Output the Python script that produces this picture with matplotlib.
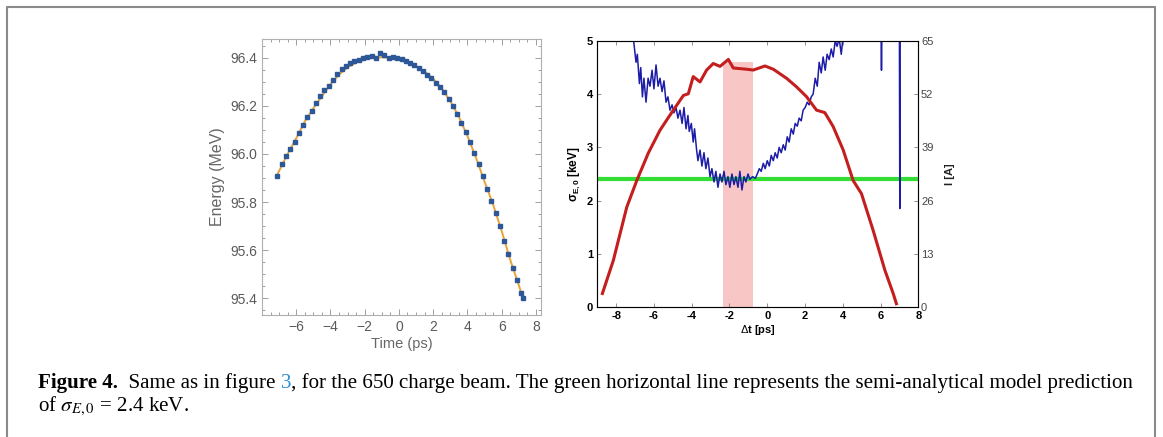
import numpy as np
import matplotlib
matplotlib.use("Agg")
import matplotlib.pyplot as plt
from matplotlib.ticker import MultipleLocator, FormatStrFormatter

plt.rcParams["font.family"] = ["Liberation Sans", "DejaVu Sans"]
plt.rcParams["mathtext.fontset"] = "custom"
plt.rcParams["mathtext.rm"] = "Liberation Sans"
plt.rcParams["mathtext.it"] = "Liberation Sans:italic"
plt.rcParams["mathtext.bf"] = "Liberation Sans:bold"

# left panel: measured energy vs time, with fit
t_meas = [-7.10, -6.85, -6.60, -6.35, -6.10, -5.85, -5.60, -5.35, -5.10, -4.85,
          -4.60, -4.35, -4.10, -3.85, -3.60, -3.35, -3.10, -2.85, -2.60, -2.35,
          -2.10, -1.85, -1.60, -1.35, -1.10, -0.85, -0.60, -0.35, -0.10, 0.15,
          0.40, 0.65, 0.90, 1.15, 1.40, 1.65, 1.90, 2.15, 2.40, 2.65,
          2.90, 3.15, 3.40, 3.65, 3.90, 4.15, 4.40, 4.65, 4.90, 5.15,
          5.40, 5.65, 5.90, 6.15, 6.40, 6.65, 6.90, 7.15, 7.25]
e_meas = [95.910, 95.958, 95.993, 96.020, 96.050, 96.085, 96.120, 96.153, 96.180, 96.213,
          96.240, 96.265, 96.284, 96.307, 96.332, 96.352, 96.367, 96.380, 96.386, 96.392,
          96.400, 96.405, 96.408, 96.400, 96.418, 96.410, 96.400, 96.405, 96.400, 96.394,
          96.388, 96.378, 96.368, 96.358, 96.346, 96.330, 96.315, 96.297, 96.280, 96.256,
          96.229, 96.198, 96.166, 96.130, 96.093, 96.048, 96.003, 95.958, 95.907, 95.855,
          95.804, 95.753, 95.699, 95.639, 95.582, 95.526, 95.474, 95.423, 95.402]
t_fit = [-7.1, -6.5, -6.0, -5.5, -5.0, -4.5, -4.0, -3.5, -3.0, -2.5, -2.0, -1.5, -1.0, -0.5,
         0.0, 0.5, 1.0, 1.5, 2.0, 2.5, 3.0, 3.5, 4.0, 4.5, 5.0, 5.5, 6.0, 6.5, 7.0, 7.2]
e_fit = [95.915, 96.000, 96.065, 96.135, 96.190, 96.240, 96.290, 96.330, 96.360, 96.380,
         96.393, 96.400, 96.402, 96.400, 96.393, 96.383, 96.365, 96.343, 96.313, 96.272,
         96.220, 96.155, 96.075, 95.985, 95.885, 95.790, 95.680, 95.560, 95.455, 95.410]

# right panel: sigma_E,0 (keV) and current (A)
sig_t = [-7.09, -6.95, -6.88, -6.77, -6.70, -6.61, -6.53, -6.42, -6.31, -6.21,
         -6.10, -6.00, -5.89, -5.78, -5.68, -5.57, -5.47, -5.36, -5.26, -5.15,
         -5.04, -4.94, -4.83, -4.73, -4.62, -4.51, -4.41, -4.30, -4.20, -4.13,
         -4.02, -3.92, -3.85, -3.74, -3.67, -3.56, -3.46, -3.35, -3.25, -3.14,
         -3.03, -2.93, -2.82, -2.72, -2.61, -2.50, -2.40, -2.29, -2.19, -2.08,
         -1.98, -1.87, -1.76, -1.66, -1.55, -1.45, -1.34, -1.23, -1.13, -1.02,
         -0.92, -0.78, -0.63, -0.53, -0.42, -0.32, -0.21, -0.11, 0.00, 0.11,
         0.21, 0.32, 0.42, 0.53, 0.63, 0.74, 0.85, 0.95, 1.06, 1.16,
         1.27, 1.38, 1.48, 1.59, 1.69, 1.80, 1.90, 2.01, 2.12, 2.22,
         2.33, 2.43, 2.54, 2.65, 2.75, 2.86, 2.96, 3.07, 3.17, 3.28,
         3.39, 3.49, 3.60, 3.70, 3.81, 3.92, 4.02]
sig_kev = [5.05, 4.60, 4.75, 4.20, 4.50, 3.95, 4.30, 3.85, 4.30, 4.15,
           4.45, 4.10, 4.55, 4.15, 4.30, 4.05, 4.25, 3.85, 3.95, 3.70,
           3.80, 3.65, 3.75, 3.55, 3.70, 3.45, 3.75, 3.35, 3.60, 3.30,
           3.45, 3.10, 3.35, 2.95, 2.75, 2.95, 2.65, 2.90, 2.60, 2.80,
           2.45, 2.60, 2.35, 2.55, 2.25, 2.50, 2.35, 2.55, 2.30, 2.45,
           2.25, 2.50, 2.30, 2.45, 2.25, 2.55, 2.20, 2.45, 2.35, 2.50,
           2.40, 2.45, 2.42, 2.50, 2.60, 2.55, 2.70, 2.60, 2.75, 2.65,
           2.85, 2.75, 2.90, 2.80, 3.00, 2.90, 3.05, 2.95, 3.20, 3.10,
           3.35, 3.25, 3.45, 3.40, 3.55, 3.50, 3.70, 3.75, 3.85, 3.80,
           3.95, 4.00, 4.30, 4.15, 4.60, 4.40, 4.70, 4.45, 4.75, 4.65,
           4.85, 4.70, 5.00, 4.90, 5.05, 4.75, 5.10]
spike_t = [6.03, 6.05, 6.07, np.nan, 7.00, 7.02, 7.03]
spike_kev = [5.10, 4.45, 5.10, np.nan, 5.10, 1.85, 5.10]

cur_t = [-8.73, -8.15, -7.44, -6.91, -6.30, -5.68, -5.15, -4.44, -4.18, -3.92,
         -3.56, -3.21, -2.86, -2.50, -2.06, -1.80, -1.09, -0.74, -0.12, 0.32,
         1.02, 1.55, 2.08, 2.61, 3.05, 3.49, 4.02, 4.55, 4.99, 5.61,
         6.23, 6.67, 6.84]
cur_a = [3.3, 11.4, 24.4, 30.9, 37.6, 43.2, 46.9, 51.7, 52.1, 56.3,
         55.0, 57.9, 59.5, 58.8, 60.5, 58.4, 58.1, 57.9, 58.9, 58.1,
         55.9, 53.8, 51.4, 48.1, 47.5, 44.1, 38.4, 30.9, 27.7, 18.7,
         9.0, 3.3, 0.8]

model_kev = 2.4
band = [-2.33, -0.74]
band_top = 4.61

W, H = 1163, 437
fig = plt.figure(figsize=(W / 100, H / 100), dpi=100)


def box(x0, y0, x1, y1):
    # pixel box (top-left origin) -> figure fraction rect
    return [x0 / W, 1 - y1 / H, (x1 - x0) / W, (y1 - y0) / H]


# page frame, open at the bottom
fig.add_artist(plt.Line2D([7 / W, 7 / W, 1155 / W, 1155 / W],
                          [0, 1 - 7 / H, 1 - 7 / H, 0],
                          color="#8a8a8a", lw=1.5, transform=fig.transFigure))

# ---- left panel (Mathematica style)
ax1 = fig.add_axes(box(262, 39, 541, 315))
ax1.plot(t_fit, e_fit, color="#e8a23a", lw=1.4, zorder=2)
ax1.errorbar(t_meas, e_meas, yerr=0.008, fmt="s", ms=2.2, color="#2d5796",
             ecolor="#2d5796", elinewidth=1.0, capsize=0, zorder=3)
ax1.set_xlim(-8.0, 8.3)
ax1.set_ylim(95.33, 96.478)
ax1.xaxis.set_major_locator(MultipleLocator(2))
ax1.xaxis.set_minor_locator(MultipleLocator(0.5))
ax1.yaxis.set_major_locator(MultipleLocator(0.2))
ax1.yaxis.set_minor_locator(MultipleLocator(0.05))
ax1.yaxis.set_major_formatter(FormatStrFormatter("%.1f"))
ax1.set_xticks([-6, -4, -2, 0, 2, 4, 6, 8])
ax1.tick_params(which="both", direction="in", top=True, right=True,
                color="#a0a0a0", labelcolor="#5a5a5a", labelsize=10, width=0.7)
ax1.tick_params(which="major", length=4)
ax1.tick_params(which="minor", length=2)
for s in ax1.spines.values():
    s.set_color("#b0b0b0")
    s.set_linewidth(0.8)
ax1.set_xlabel("Time (ps)", color="#666666", fontsize=10.5, labelpad=2)
ax1.set_ylabel("Energy (MeV)", color="#666666", fontsize=11.5, labelpad=4)

# ---- right panel (MATLAB style)
ax = fig.add_axes(box(597.3, 41, 918.3, 307))
ax.fill_between(band, 0, band_top, color="#f9c6c6", lw=0, zorder=1)
ax.axhline(model_kev, color="#33dd33", lw=3.0, zorder=2)
ax.plot(sig_t, sig_kev, color="#1c1ca8", lw=1.1, zorder=3)
ax.plot(spike_t, spike_kev, color="#1c1ca8", lw=1.1, zorder=3)
ax.set_xlim(-9, 8)
ax.set_ylim(0, 5)
ax.set_xticks(range(-8, 9, 2))
ax.set_xticklabels([str(v) for v in range(-8, 9, 2)])
ax.set_yticks(range(0, 6))
ax.tick_params(direction="in", top=True, length=3, labelsize=8, width=0.6,
               color="#808080", pad=3)
for lab in ax.get_xticklabels() + ax.get_yticklabels():
    lab.set_fontweight("bold")
for s in ax.spines.values():
    s.set_color("#909090")
    s.set_linewidth(0.8)
ax.set_xlabel(r"$\Delta$t [ps]", fontsize=8, fontweight="bold", labelpad=1)
ax.set_ylabel(r"$\mathbf{\sigma_{E,0}}$ [keV]", fontsize=8.5, fontweight="bold", labelpad=3)

ax2 = ax.twinx()
ax2.plot(cur_t, cur_a, color="#c41e1e", lw=2.2, zorder=4)
ax2.set_ylim(0, 65)
ax2.set_yticks(range(0, 66, 13))
ax2.tick_params(direction="in", length=3, labelsize=8, width=0.6,
                color="#808080", labelcolor="#444444", pad=2)
ax2.set_ylabel("I [A]", fontsize=8, fontweight="bold", color="#222222", labelpad=8)

# ---- caption
serif = "Liberation Serif"
line1 = [("Figure 4.", "bold", "black"),
         ("  Same as in figure ", "normal", "black"),
         ("3", "normal", "#2a8fd6"),
         (", for the 650 charge beam. The green horizontal line represents "
          "the semi-analytical model prediction", "normal", "black")]

renderer = fig.canvas.get_renderer()


def text_width(s, size, weight):
    t = fig.text(0, 0, s, fontsize=size, fontweight=weight, family=serif)
    w = t.get_window_extent(renderer).width
    t.remove()
    return w


def piece_width(s, size, weight):
    # keep leading/trailing spaces in the measure
    return text_width("x" + s + "x", size, weight) - text_width("xx", size, weight)


size = 12
total = sum(piece_width(s, size, w) for s, w, c in line1)
size = size * (1130 - 38) / total

x = 38
for s, w, c in line1:
    fig.text(x / W, 1 - 388 / H, s, fontsize=size, fontweight=w, color=c,
             family=serif, va="baseline")
    x += piece_width(s, size, w)

t2 = fig.text(38 / W, 1 - 411 / H, r"of $\sigma_{E,0}$ = 2.4 keV.", fontsize=size,
              family=serif, va="baseline")
t2.set_math_fontfamily("stix")

fig.savefig("out.png", dpi=100)
